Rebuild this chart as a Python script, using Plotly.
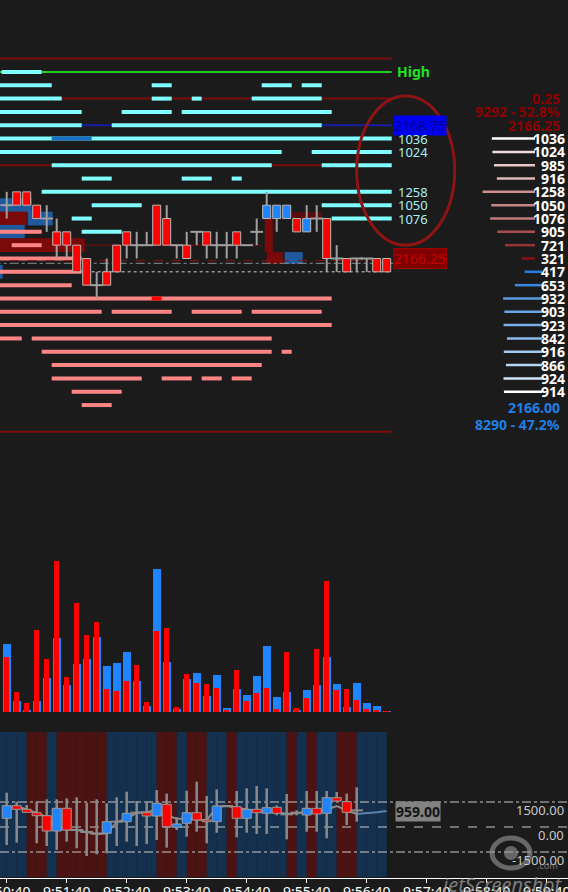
import plotly.graph_objects as go

BG = "#1b1b1b"
RED = "#ff0000"
BLUE = "#1e84ff"
WICK = "#a0a0a0"
DARK_RED = "#7d0c0c"
CYAN = "#80ffff"
PINK = "#ff8585"

# 10 second bars
bar_times = ["9:50:40", "9:50:50", "9:51:00", "9:51:10", "9:51:20", "9:51:30", "9:51:40", "9:51:50",
             "9:52:00", "9:52:10", "9:52:20", "9:52:30", "9:52:40", "9:52:50", "9:53:00", "9:53:10",
             "9:53:20", "9:53:30", "9:53:40", "9:53:50", "9:54:00", "9:54:10", "9:54:20", "9:54:30",
             "9:54:40", "9:54:50", "9:55:00", "9:55:10", "9:55:20", "9:55:30", "9:55:40", "9:55:50",
             "9:56:00", "9:56:10", "9:56:20", "9:56:30", "9:56:40", "9:56:50", "9:57:00"]
tick_labels = ["9:50:40", "9:51:40", "9:52:40", "9:53:40", "9:54:40",
               "9:55:40", "9:56:40", "9:57:40", "9:58:40", "9:59:40"]

price_open = [2167.25, 2167.5, 2167.5, 2167.25, 2167.0, 2166.75, 2166.75, 2166.5, 2166.25, 2165.75,
              2166.0, 2166.5, 2166.75, 2166.5, 2166.5, 2167.25, 2167.0, 2166.5, 2166.5, 2166.75,
              2166.75, 2166.5, 2166.5, 2166.75, 2166.5, 2166.75, 2167.0, 2167.0, 2167.0, 2167.0,
              2166.75, 2167.0, 2167.0, 2166.25, 2166.25, 2166.25, 2166.25, 2166.25, 2166.25]
price_high = [2167.5, 2167.5, 2167.5, 2167.25, 2167.25, 2167.0, 2166.75, 2166.5, 2166.25, 2166.0,
              2166.25, 2166.5, 2166.75, 2166.75, 2166.75, 2167.25, 2167.25, 2166.5, 2166.75, 2166.75,
              2166.75, 2166.75, 2166.75, 2166.75, 2166.5, 2167.0, 2167.5, 2167.25, 2167.25, 2167.0,
              2167.25, 2167.25, 2167.0, 2166.5, 2166.25, 2166.25, 2166.25, 2166.25, 2166.25]
price_low = [2167.0, 2167.25, 2167.25, 2167.0, 2166.75, 2166.25, 2166.25, 2166.0, 2165.75, 2165.5,
             2165.75, 2166.0, 2166.25, 2166.25, 2166.5, 2166.5, 2166.5, 2166.25, 2166.25, 2166.5,
             2166.25, 2166.25, 2166.25, 2166.25, 2166.5, 2166.5, 2167.0, 2166.75, 2167.0, 2166.75,
             2166.75, 2166.75, 2166.0, 2166.0, 2166.0, 2166.0, 2166.0, 2166.0, 2166.0]
price_close = [2167.25, 2167.25, 2167.25, 2167.0, 2167.0, 2166.5, 2166.5, 2166.0, 2165.75, 2165.75,
               2165.75, 2166.0, 2166.5, 2166.5, 2166.5, 2166.5, 2166.5, 2166.5, 2166.25, 2166.75,
               2166.5, 2166.5, 2166.5, 2166.5, 2166.5, 2166.75, 2167.25, 2167.25, 2167.25, 2166.75,
               2167.0, 2167.0, 2166.25, 2166.25, 2166.0, 2166.25, 2166.25, 2166.0, 2166.0]
price_color = ["doji", "red", "red", "red", "doji", "red", "red", "red", "red", "doji",
               "red", "red", "red", "doji", "doji", "red", "red", "doji", "red", "doji",
               "red", "doji", "doji", "red", "doji", "doji", "blue", "blue", "blue", "red",
               "blue", "doji", "red", "doji", "red", "doji", "doji", "red", "red"]

vol_buy = [203, 32, 5, 32, 102, 222, 80, 143, 158, 225, 137, 147, 180, 93, 17, 430, 150, 8, 99, 117,
           48, 110, 11, 68, 51, 107, 197, 44, 59, 5, 66, 80, 165, 83, 15, 86, 27, 18, 3]
vol_sell = [165, 60, 27, 245, 159, 452, 105, 327, 231, 270, 69, 63, 93, 140, 29, 243, 252, 14, 113, 87,
            83, 72, 7, 125, 33, 57, 72, 9, 180, 13, 42, 189, 393, 65, 69, 35, 9, 6, 2]

delta_open = [522, 1278, 1062, 858, 678, -240, 1122, -180, -300, -400, -378, 318, 318, 858, 858, 660,
              1362, -18, 222, 858, 420, 318, 1260, 1218, 522, 1062, 822, 1182, 760, 860, 720, 1122,
              822, 1758, 1518, 1000, None, None, None]
delta_high = [2058, 1518, 1320, 1518, 1662, 1662, 1722, 1782, 1458, 1662, 1422, 1782, 2118, 1560, 1518,
              2220, 2002, 582, 2178, 2718, 1860, 2262, 1320, 2160, 2322, 2460, 2322, 1300, 1980, 1000,
              2160, 2160, 2160, 2100, 2002, 2382, None, None, None]
delta_low = [-1080, -942, 882, -978, -1140, -1380, -882, -1278, -1740, -1640, -1580, -1140, -882, -1140,
             -1020, -780, -1240, -180, -582, -282, -978, -342, 1200, -618, -342, -420, -420, 700, -740,
             700, -282, -282, -680, 1500, 120, 318, None, None, None]
delta_close = [1278, 1062, 882, 678, -240, 1122, -180, -180, -300, -400, 318, 318, 822, 858, 660, 1422,
               18, 180, 858, 420, 318, 1260, 1260, 522, 1062, 858, 1158, 822, 760, 860, 1122, 780,
               1758, 1560, 882, 1000, None, None, None]
delta_avg = [1150, 1250, 1050, 850, 600, -100, -150, -180, -300, -420, -380, 300, 500, 850, 900, 1000,
             700, 500, 500, 450, 400, 1200, 1260, 1150, 1050, 950, 950, 900, 800, 820, 900, 950, 1050,
             1250, 1000, 780, 820, 880, 959]
delta_zone = ["buy", "buy", "buy", "sell", "sell", "buy", "sell", "sell", "sell", "sell", "sell", "buy",
              "buy", "buy", "buy", "buy", "sell", "sell", "buy", "sell", "sell", "buy", "buy", "sell",
              "buy", "buy", "buy", "buy", "buy", "sell", "buy", "sell", "buy", "buy", "sell", "sell",
              "buy", "buy", "buy"]

# horizontal profile segments: price, [(first bar, last bar), ...]
cyan_rows = [
    (2169.75, [("9:50:40", "9:51:10")]),
    (2169.50, [("9:50:30", "9:51:20"), ("9:53:10", "9:53:20"), ("9:55:00", "9:55:20"), ("9:55:40", "9:55:50")]),
    (2169.25, [("9:50:30", "9:51:30"), ("9:53:10", "9:53:20"), ("9:53:50", "9:53:50"), ("9:54:50", "9:55:50")]),
    (2169.00, [("9:50:30", "9:51:50"), ("9:52:40", "9:53:20"), ("9:53:40", "9:56:00")]),
    (2168.75, [("9:50:30", "9:51:50"), ("9:52:30", "9:55:50")]),
    (2168.50, [("9:50:30", "9:57:00")]),
    (2168.25, [("9:50:30", "9:55:10"), ("9:55:50", "9:57:00")]),
    (2168.00, [("9:51:30", "9:55:00"), ("9:56:00", "9:57:00")]),
    (2167.75, [("9:52:00", "9:52:20"), ("9:53:40", "9:54:00"), ("9:54:30", "9:54:30")]),
    (2167.50, [("9:51:20", "9:57:00")]),
    (2167.25, [("9:52:10", "9:52:50"), ("9:56:00", "9:57:00")]),
    (2167.00, [("9:51:50", "9:52:00"), ("9:56:10", "9:57:00")]),
    (2166.75, [("9:52:00", "9:52:30")]),
]
pink_rows = [
    (2166.75, [("9:50:30", "9:51:10")]),
    (2166.50, [("9:50:50", "9:51:10")]),
    (2166.25, [("9:50:30", "9:51:50")]),
    (2166.00, [("9:50:30", "9:51:50")]),
    (2165.75, [("9:50:30", "9:51:40")]),
    (2165.50, [("9:50:30", "9:56:00")]),
    (2165.25, [("9:50:30", "9:52:10"), ("9:52:30", "9:53:20"), ("9:53:50", "9:54:30"), ("9:54:50", "9:55:50")]),
    (2165.00, [("9:50:30", "9:56:00")]),
    (2164.75, [("9:50:30", "9:50:50"), ("9:51:10", "9:55:00")]),
    (2164.50, [("9:51:20", "9:55:00"), ("9:55:20", "9:55:20")]),
    (2164.25, [("9:51:30", "9:54:50")]),
    (2164.00, [("9:51:30", "9:52:50"), ("9:53:20", "9:53:40"), ("9:54:00", "9:54:10"), ("9:54:30", "9:54:40")]),
    (2163.75, [("9:51:50", "9:52:30")]),
    (2163.50, [("9:52:00", "9:52:20")]),
]
blue_rows = [(2168.50, [("9:51:30", "9:52:00")])]
red_rows = [(2165.50, [("9:53:10", "9:53:10")])]

# big lot boxes: start, end, low, high, colour
lot_boxes = [
    ("9:50:30", "9:51:05", 2167.12, 2167.38, "#1f5a9c"),
    ("9:50:30", "9:51:00", 2166.87, 2167.13, "#7a0a0a"),
    ("9:51:01", "9:51:26", 2166.87, 2167.13, "#1f5a9c"),
    ("9:50:30", "9:50:58", 2166.62, 2166.88, "#1f5a9c"),
    ("9:50:30", "9:51:58", 2166.37, 2166.63, "#7a0a0a"),
    ("9:50:30", "9:50:36", 2165.87, 2166.13, "#1f5a9c"),
    ("9:54:58", "9:55:06", 2166.37, 2167.00, "#7a0a0a"),
    ("9:55:00", "9:55:16", 2166.15, 2166.37, "#7a0a0a"),
    ("9:55:18", "9:55:36", 2166.15, 2166.37, "#1f5a9c"),
    ("9:55:00", "9:55:55", 2167.00, 2167.12, "#5a0c0c"),
]

# key levels: price, colour, dash, width, first bar, last bar
base_levels = [
    (2170.00, DARK_RED, "solid", 2, "9:50:30", "9:57:00"),
    (2169.25, DARK_RED, "solid", 2, "9:50:30", "9:57:00"),
    (2168.00, DARK_RED, "solid", 2, "9:50:30", "9:57:00"),
    (2163.00, DARK_RED, "solid", 2, "9:50:30", "9:57:00"),
    (2168.75, "#1a1aa8", "solid", 2, "9:50:30", "9:57:00"),
    (2169.75, "#22cc22", "solid", 2, "9:50:30", "9:57:00"),
    (2166.50, DARK_RED, "solid", 1, "9:52:00", "9:54:50"),
]
guide_levels = [
    (2166.21, "#8b1414", "dash", 1, "9:50:30", "9:57:00"),
    (2166.16, "#8c8c8c", "dashdot", 1, "9:50:30", "9:57:40"),
    (2166.00, "#d0d0d0", "dot", 1, "9:52:10", "9:57:00"),
]

high_price = 2169.75
ask_price = 2168.75
last_price = 2166.25

# depth ladder on the right
ladder_prices = [2168.50, 2168.25, 2168.00, 2167.75, 2167.50, 2167.25, 2167.00, 2166.75, 2166.50, 2166.25,
                 2166.00, 2165.75, 2165.50, 2165.25, 2165.00, 2164.75, 2164.50, 2164.25, 2164.00, 2163.75]
ladder_sizes = [1036, 1024, 985, 916, 1258, 1050, 1076, 905, 721, 321,
                417, 653, 932, 903, 923, 842, 916, 866, 924, 914]
ladder_side = ["ask"] * 10 + ["bid"] * 10
ladder_colors = ["#ffffff", "#f0dada", "#e6c8c8", "#dcb8b8", "#cc9090", "#c48686", "#bc7a7a", "#a85050",
                 "#983434", "#8c1010",
                 "#2080e6", "#3a8ae2", "#5a9ce4", "#68a6e6", "#7aaee8", "#8cbaea", "#a2c8f0", "#b8d6f4",
                 "#d2e4f8", "#ffffff"]
cyan_label_prices = [2168.50, 2168.25, 2167.50, 2167.25, 2167.00]
ask_summary = ["0.25", "9292 - 52.8%", "2166.25"]
bid_summary = ["2166.00", "8290 - 47.2%"]

delta_levels = [1500, 0, -1500]

highlight = ("9:56:30", "9:58:08", 2166.50, 2169.30)


def secs(label):
    h, m, s = (int(v) for v in label.split(":"))
    return (h * 60 + m) * 60 + s - (9 * 60 + 50) * 60


BAR = 10
PLOT_H = 878
X0 = 33.3
REF_PX, PX_PER_POINT = 258.5, 53.3


def dom(top, bottom):
    return [1 - bottom / PLOT_H, 1 - top / PLOT_H]


def price_at(px):
    return last_price + (REF_PX - px) / PX_PER_POINT


def seg_xy(rows):
    xs, ys = [], []
    for price, spans in rows:
        for a, b in spans:
            xs += [secs(a) - BAR / 2, secs(b) + BAR / 2, None]
            ys += [price, price, None]
    return xs, ys


def wick_xy(times, o, h, l, c):
    xs, ys = [], []
    for x, op, hi, lo, cl in zip(times, o, h, l, c):
        if op is None:
            continue
        top, bot = max(op, cl), min(op, cl)
        if hi > top:
            xs += [x, x, None]
            ys += [top, hi, None]
        if lo < bot:
            xs += [x, x, None]
            ys += [bot, lo, None]
    return xs, ys


def body_xy(times, o, c, half, keep):
    xs, ys = [], []
    for x, op, cl, k in zip(times, o, c, keep):
        if not k:
            continue
        lo, hi = min(op, cl), max(op, cl)
        xs += [x - half, x + half, x + half, x - half, x - half, None]
        ys += [lo, lo, hi, hi, lo, None]
    return xs, ys


t = [secs(b) for b in bar_times]
fig = go.Figure()

# volume
fig.add_trace(go.Bar(x=t, y=vol_buy, width=8.3, marker=dict(color=BLUE, line_width=0), yaxis="y2"))
fig.add_trace(go.Bar(x=t, y=vol_sell, width=5, marker=dict(color=RED, line_width=0), yaxis="y2"))


def add_lines(levels):
    for price, color, dash, width, a, b in levels:
        fig.add_trace(go.Scatter(x=[secs(a) - BAR / 2, secs(b) + BAR / 2], y=[price, price], mode="lines",
                                 line=dict(color=color, width=width, dash=dash)))


add_lines(base_levels)
for rows, color in ((cyan_rows, CYAN), (pink_rows, PINK), (blue_rows, "#1a70c4"), (red_rows, RED)):
    xs, ys = seg_xy(rows)
    fig.add_trace(go.Scatter(x=xs, y=ys, mode="lines", line=dict(color=color, width=4)))
add_lines(guide_levels)

# price candles
xs, ys = wick_xy(t, price_open, price_high, price_low, price_close)
fig.add_trace(go.Scatter(x=xs, y=ys, mode="lines", line=dict(color=WICK, width=2)))
for col, fill in (("red", RED), ("blue", BLUE)):
    xs, ys = body_xy(t, price_open, price_close, 4, [c == col for c in price_color])
    fig.add_trace(go.Scatter(x=xs, y=ys, mode="lines", fill="toself", fillcolor=fill,
                             line=dict(color="#b8b8b8", width=1)))
dj = [i for i, c in enumerate(price_color) if c == "doji"]
fig.add_trace(go.Scatter(x=[t[i] for i in dj], y=[price_close[i] for i in dj], mode="markers",
                         marker=dict(symbol="line-ew", size=9, line=dict(color=WICK, width=2))))

# delta panel
fig.add_trace(go.Scatter(x=t[:-3], y=delta_avg[:-3], mode="lines", line=dict(color="#8c8c8c", width=2),
                         yaxis="y3"))
fig.add_trace(go.Scatter(x=t[-4:], y=delta_avg[-4:], mode="lines", line=dict(color="#5b82aa", width=2),
                         yaxis="y3"))
xs, ys = wick_xy(t, delta_open, delta_high, delta_low, delta_close)
fig.add_trace(go.Scatter(x=xs, y=ys, mode="lines", line=dict(color="#8a8a8a", width=2.5), yaxis="y3"))
for sign, fill in ((1, BLUE), (-1, RED)):
    keep = [o is not None and (c - o) * sign > 0 for o, c in zip(delta_open, delta_close)]
    xs, ys = body_xy(t, delta_open, delta_close, 4.5, keep)
    fig.add_trace(go.Scatter(x=xs, y=ys, mode="lines", fill="toself", fillcolor=fill,
                             line=dict(color="#9a9a9a", width=1), yaxis="y3"))
dj = [i for i, (o, c) in enumerate(zip(delta_open, delta_close)) if o is not None and o == c]
fig.add_trace(go.Scatter(x=[t[i] for i in dj], y=[delta_close[i] for i in dj], mode="markers",
                         marker=dict(symbol="line-ew", size=9, line=dict(color="#8a8a8a", width=2)),
                         yaxis="y3"))

# anchor for the ladder axis
fig.add_trace(go.Scatter(x=[0], y=[last_price], xaxis="x2", mode="markers", marker=dict(opacity=0)))

shapes = []
for a, b, lo, hi, color in lot_boxes:
    shapes.append(dict(type="rect", xref="x", yref="y", x0=secs(a), x1=secs(b), y0=lo, y1=hi,
                       fillcolor=color, line_width=0, layer="below"))
for tm, zone in zip(t, delta_zone):
    shapes.append(dict(type="rect", xref="x", yref="y3 domain", x0=tm - BAR, x1=tm, y0=0, y1=1,
                       fillcolor="#14304f" if zone == "buy" else "#4d1212", line_width=0, layer="below"))
for lvl, dash in zip(delta_levels, ["dashdot", "dash", "dashdot"]):
    shapes.append(dict(type="line", xref="paper", yref="y3", x0=0, x1=1, y0=lvl, y1=lvl,
                       line=dict(color="#c8c8c8", width=1, dash=dash), layer="below"))
for p, size, side, color in zip(ladder_prices, ladder_sizes, ladder_side, ladder_colors):
    end = 0 if side == "ask" else 168
    shapes.append(dict(type="line", xref="x2", yref="y", x0=end - size, x1=end, y0=p, y1=p,
                       line=dict(color=color, width=2.5)))
h0, h1, hp0, hp1 = highlight
shapes.append(dict(type="circle", xref="x", yref="y", x0=secs(h0), x1=secs(h1), y0=hp0, y1=hp1,
                   line=dict(color="#8c1414", width=3)))
# watermark logo (screen capture tool)
shapes.append(dict(type="circle", xref="paper", yref="paper", x0=492 / 568, x1=530 / 568,
                   y0=1 - 868 / PLOT_H, y1=1 - 838 / PLOT_H, line=dict(color="#9a9a9a", width=5), opacity=0.6))
shapes.append(dict(type="circle", xref="paper", yref="paper", x0=504 / 568, x1=518 / 568,
                   y0=1 - 860 / PLOT_H, y1=1 - 846 / PLOT_H, fillcolor="#9a9a9a", line_width=0, opacity=0.6))

edge = secs(bar_times[-1]) + BAR / 2
ann = [
    dict(x=edge, y=high_price, xanchor="left", xshift=3, text="<b>High</b>",
         font=dict(color="#22e022", size=14)),
    dict(x=edge, y=ask_price, xanchor="left", xshift=1, text=f"{ask_price:.2f}", bgcolor="#0000f0",
         font=dict(color="#00008c", size=14), borderpad=0),
    dict(x=edge, y=last_price, xanchor="left", xshift=1, text=f"{last_price:.2f}", bgcolor="#7e0000",
         bordercolor="#a00000", font=dict(color="#c80000", size=14), borderpad=0),
]
size_at = dict(zip(ladder_prices, ladder_sizes))
for p in cyan_label_prices:
    ann.append(dict(x=edge, y=p, xanchor="left", xshift=4, text=str(size_at[p]),
                    font=dict(color="#a8f0f0", size=13)))
for p, size in zip(ladder_prices, ladder_sizes):
    ann.append(dict(xref="paper", x=1, y=p, xanchor="right", xshift=-1, text=f"<b>{size}</b>",
                    font=dict(color="#ffffff", size=14)))
for p, txt in zip([2169.25, 2169.00, 2168.75], ask_summary):
    ann.append(dict(xref="paper", x=1, y=p, xanchor="right", xshift=-6, text=f"<b>{txt}</b>",
                    font=dict(color="#8b0000", size=14)))
for p, txt in zip([2163.46, 2163.14], bid_summary):
    ann.append(dict(xref="paper", x=1, y=p, xanchor="right", xshift=-6, text=f"<b>{txt}</b>",
                    font=dict(color="#1f7fe6", size=14)))
for lvl in delta_levels:
    ann.append(dict(xref="paper", x=1, yref="y3", y=lvl, xanchor="right", xshift=-2, yshift=-8,
                    text=f"{lvl:.2f}", font=dict(color="#c8c8c8", size=13)))
ann.append(dict(x=edge, yref="y3", y=delta_avg[-1], xanchor="left", xshift=3, text=f"<b>{delta_avg[-1]:.2f}</b>",
                bgcolor="#828282", font=dict(color="#151515", size=14), borderpad=0))
ann.append(dict(xref="paper", yref="paper", x=1, y=0, xanchor="right", yanchor="top", xshift=-3, yshift=9,
                text="<i>jetScreenshot</i>", font=dict(color="#9a9a9a", size=20), opacity=0.75))
ann.append(dict(xref="paper", yref="paper", x=1, y=0, xanchor="right", yanchor="bottom", xshift=-8, yshift=4,
                text=".com", font=dict(color="#9a9a9a", size=9), opacity=0.75))
for a in ann:
    a["showarrow"] = False

fig.update_layout(
    width=568, height=892,
    margin=dict(l=0, r=0, t=0, b=14),
    paper_bgcolor=BG, plot_bgcolor=BG,
    showlegend=False, hovermode=False,
    barmode="overlay", bargap=0,
    font=dict(family="Noto Sans", color="#e6e6e6", size=13),
    xaxis=dict(range=[X0, X0 + 568], tickvals=[secs(s) for s in tick_labels], ticktext=tick_labels,
               showgrid=False, zeroline=False, showline=True, linecolor="#ffffff", linewidth=1,
               ticks="outside", ticklen=4, tickcolor="#ffffff", anchor="free", position=0,
               automargin=False, ticklabeloverflow="allow", ticklabelstandoff=-3,
               tickfont=dict(size=14, color="#ffffff")),
    xaxis2=dict(overlaying="x", range=[-535 * 24, 33 * 24], visible=False, anchor="y", automargin=False),
    yaxis=dict(domain=dom(40, 445), range=[price_at(445), price_at(40)], visible=False, automargin=False),
    yaxis2=dict(domain=dom(545, 712), range=[0, 501], visible=False, automargin=False),
    yaxis3=dict(domain=dom(732, 877), range=[-3000, 5700], visible=False, automargin=False),
    shapes=shapes, annotations=ann,
)

fig.write_html("out.html", config={"displayModeBar": False},
               post_script="document.body.style.margin='0';document.body.style.background='" + BG + "';")
